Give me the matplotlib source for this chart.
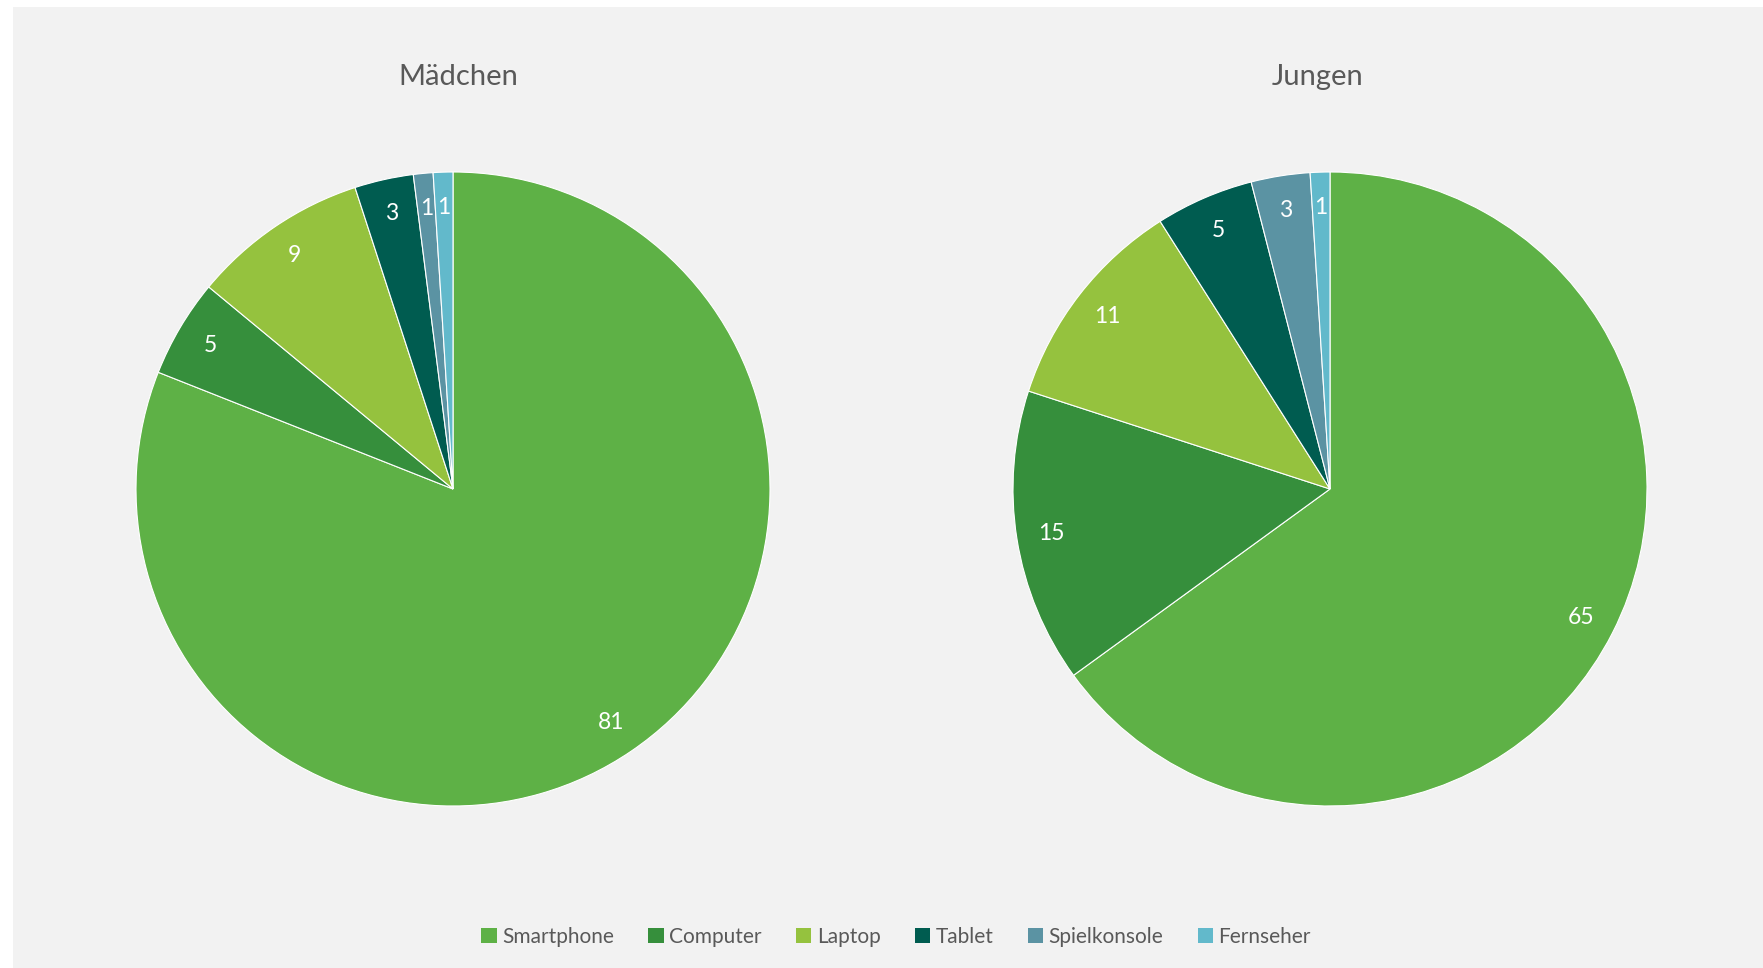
import matplotlib
matplotlib.use('Agg')
import matplotlib.pyplot as plt
from matplotlib.patches import Rectangle, Patch

plt.rcParams['font.family'] = ['Lato', 'DejaVu Sans']

# Daten (Anteile in %)
categories = ['Smartphone', 'Computer', 'Laptop', 'Tablet', 'Spielkonsole', 'Fernseher']
maedchen = [81, 5, 9, 3, 1, 1]
jungen = [65, 15, 11, 5, 3, 1]
colors = ['#5EB146', '#368F3C', '#95C23E', '#005C50', '#5B93A3', '#62B9CB']
TXT = '#595959'

W, H = 1763, 968
fig = plt.figure(figsize=(W / 100, H / 100), dpi=100, facecolor='white')
# grauer Diagrammhintergrund
fig.patches.append(Rectangle((13 / W, 0), 1 - 13 / W, 1 - 7 / H, transform=fig.transFigure,
                             facecolor='#F2F2F2', edgecolor='none', zorder=-10))

R = 317  # Radius in Pixel
for cx, tx, vals, title in [(453, 458, maedchen, 'Mädchen'), (1330, 1318, jungen, 'Jungen')]:
    ax = fig.add_axes([(cx - R) / W, (H - 489 - R) / H, 2 * R / W, 2 * R / H])
    ax.pie(vals, colors=colors, startangle=90, counterclock=False,
           autopct=lambda p: f'{p:.0f}', pctdistance=0.89,
           wedgeprops=dict(edgecolor='white', linewidth=0.8),
           textprops=dict(color='white', fontsize=16.5))
    ax.set_xlim(-1, 1); ax.set_ylim(-1, 1)
    ax.set_aspect('equal')
    ax.axis('off')
    fig.text(tx / W, 1 - 77 / H, title, ha='center', va='center',
             fontsize=21, color=TXT)

handles = [Patch(facecolor=c, edgecolor='none') for c in colors]
leg = fig.legend(handles, categories, loc='center', bbox_to_anchor=(896 / W, 1 - 937 / H),
                 ncol=6, frameon=False, fontsize=15, handlelength=0.75, handleheight=0.75,
                 handletextpad=0.25, columnspacing=1.65)
for t in leg.get_texts():
    t.set_color(TXT)

fig.savefig('out.png', dpi=100, facecolor=fig.get_facecolor())
